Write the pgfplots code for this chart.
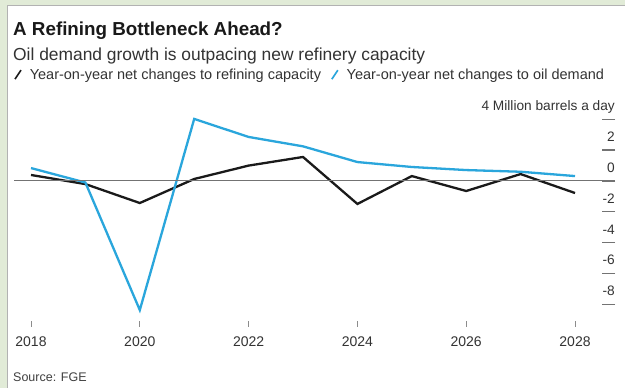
\documentclass[border=0pt]{standalone}
\usepackage{pgfplots}
\pgfplotsset{compat=1.18}
\usepackage{fontspec}
\setmainfont{Liberation Sans}
\definecolor{frame}{HTML}{E1EBD7}
\definecolor{demand}{HTML}{2AA6DC}
\definecolor{refin}{HTML}{1A1A1A}
\definecolor{txt}{HTML}{333333}
\begin{document}
\begin{tikzpicture}
\useasboundingbox (0bp,0bp) rectangle (625bp,388bp);
\fill[frame] (0bp,0bp) rectangle (625bp,388bp);
\filldraw[fill=white, draw=black!30, line width=1bp] (7.5bp,-5bp) rectangle (630bp,382.5bp);
\node[anchor=base west, inner sep=0, text=black!90] at (13bp,352bp) {\fontsize{18.8bp}{22bp}\selectfont\bfseries A Refining Bottleneck Ahead?};
\node[anchor=base west, inner sep=0, text=txt] at (13bp,327bp) {\fontsize{17.4bp}{20bp}\selectfont Oil demand growth is outpacing new refinery capacity};
\node[anchor=base west, inner sep=0, text=black!75] at (13bp,7bp) {\fontsize{12.5bp}{15bp}\selectfont Source: FGE};
\begin{axis}[
  at={(14bp,61bp)}, anchor=south west,
  scale only axis, width=601bp, height=215.3bp,
  xmin=2017.6875, xmax=2028.735, ymin=-9.48, ymax=4.5,
  axis x line*=bottom, axis y line*=right,
  axis line style={draw=none},
  tick align=inside,
  xtick={2018,2020,2022,2024,2026,2028},
  xticklabels={2018,2020,2022,2024,2026,2028},
  xtick style={draw=black!45, line width=0.8bp, /pgfplots/major tick length=6bp},
  ytick={-8,-6,-4,-2,0,2,4},
  yticklabels={-8,-6,-4,-2,0,2,4 Million barrels a day},
  ytick style={draw=black!55, line width=1.4bp, /pgfplots/major tick length=13bp},
  xticklabel style={anchor=base, yshift=-20bp, inner sep=0, text=txt, font=\fontsize{14bp}{16bp}\selectfont},
  yticklabel pos=right,
  yticklabel style={anchor=base east, yshift=8.5bp, inner sep=0, text=txt, font=\fontsize{13.7bp}{16bp}\selectfont},
  legend columns=2,
  legend style={at={(axis description cs:0,1.172)}, anchor=west, draw=none, fill=none, inner sep=0pt,
    font=\fontsize{14.5bp}{17bp}\selectfont, text=txt,
    nodes={inner sep=0pt}},
  legend image code/.code={\draw[#1, line width=1.6bp] (0bp,-4.5bp) -- (6bp,4.5bp);},
  /tikz/every odd column/.append style={column sep=8bp},
  /tikz/every even column/.append style={column sep=10bp},
]
\addplot[refin, line width=2.3bp] coordinates {
 (2018,0.39) (2019,-0.2) (2020,-1.43) (2021,0.13) (2022,1.0) (2023,1.56)
 (2024,-1.49) (2025,0.32) (2026,-0.65) (2027,0.45) (2028,-0.78)};
\addlegendentry{Year-on-year net changes to refining capacity}
\addplot[demand, line width=2.3bp] coordinates {
 (2018,0.84) (2019,-0.1) (2020,-8.38) (2021,4.03) (2022,2.86) (2023,2.25)
 (2024,1.23) (2025,0.91) (2026,0.71) (2027,0.6) (2028,0.32)};
\addlegendentry{Year-on-year net changes to oil demand}
\addplot[black!55, line width=1bp, forget plot] coordinates {(2017.6875,0) (2028.735,0)};
\end{axis}
\end{tikzpicture}
\end{document}
